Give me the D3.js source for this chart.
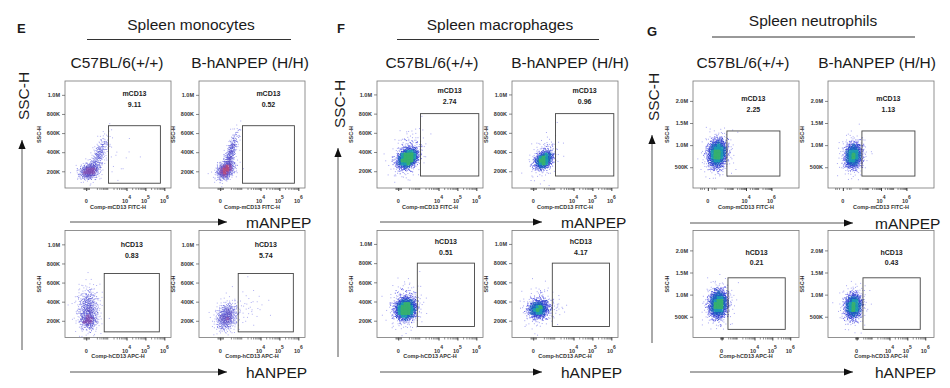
<!DOCTYPE html>
<html lang="en">
<head>
<meta charset="UTF-8">
<title>spleen-cd13-flow</title>
<style>
  body { margin: 0; background: #fff; }
  svg { display: block; font-family: "Liberation Sans", Arial, sans-serif; }
</style>
</head>
<body>
<div id="container"></div>
<script src="https://d3js.org/d3.v7.min.js"></script>
<script>
// ---- data ----
var panelLetters = ["E", "F", "G"];
var panelTitles = ["Spleen monocytes", "Spleen macrophages", "Spleen neutrophils"];
var strains = ["C57BL/6(+/+)", "B-hANPEP (H/H)"];
var rowMarkers = ["mANPEP", "hANPEP"];
var gateNames = ["mCD13", "hCD13"];
var xTitles = ["Comp-mCD13 FITC-H", "Comp-hCD13 APC-H"];

// gate percentages [panel][row][strain]
var gatePct = [
  [["9.11", "0.52"], ["0.83", "5.74"]],
  [["2.74", "0.96"], ["0.51", "4.17"]],
  [["2.25", "1.13"], ["0.21", "0.43"]]
];

// SSC-H axis
var sscTicks = [[2e5, 4e5, 6e5, 8e5, 1e6], [2e5, 4e5, 6e5, 8e5, 1e6], [5e5, 1e6, 1.5e6, 2e6]];
var sscLabels = [["200K", "400K", "600K", "800K", "1.0M"], ["200K", "400K", "600K", "800K", "1.0M"], ["500K", "1.0M", "1.5M", "2.0M"]];
var sscDomain = [[25e3, 1.145e6], [25e3, 1.14e6], [30e3, 2.45e6]];

// fluorescence axis tick values per [panel][row]
var fluorTicks = [
  [[0, 1e4, 1e5, 1e6], [0, 1e4, 1e5, 1e6]],
  [[0, 1e4, 1e5, 1e6], [0, 1e4, 1e5, 1e6]],
  [[0, 1e4, 1e6], [0, 1e4, 1e5, 1e6]]
];

// gates [panel][row] = [x0, x1, ssc0, ssc1], same gate for both strains
var gates = [
  [[1050, 6.2e5, 75e3, 677e3], [595, 5.45e5, 84e3, 695e3]],
  [[1050, 1.35e6, 150e3, 800e3], [690, 8.0e5, 140e3, 800e3]],
  [[306, 4.65e6, 300e3, 1.32e6], [189, 5.25e5, 214e3, 1.38e6]]
];

// event clouds seen in each plot: [x, ssc, spreadX(log units), spreadSSC, corr, events]
var clouds = [
  [ // monocytes
    [[[35, 200e3, 0.65, 45e3, 0.2, 330], [278, 370e3, 0.65, 110e3, 0.7, 220], [2500, 300e3, 1.2, 160e3, 0.2, 18]],
     [[68, 210e3, 0.6, 50e3, 0.3, 380], [197, 390e3, 0.5, 120e3, 0.75, 260]]],
    [[[22, 320e3, 0.7, 120e3, 0, 450], [22, 200e3, 0.55, 40e3, 0, 150]],
     [[87, 240e3, 0.7, 80e3, 0.2, 420], [2200, 340e3, 1.2, 100e3, 0, 40]]]
  ],
  [ // macrophages
    [[[164, 334e3, 0.6, 50e3, 0.3, 1000], [164, 370e3, 0.95, 120e3, 0.35, 260]],
     [[197, 315e3, 0.55, 48e3, 0.3, 600], [197, 340e3, 0.9, 110e3, 0.35, 150]]],
    [[[110, 323e3, 0.62, 55e3, 0.1, 1100], [110, 345e3, 0.95, 120e3, 0.1, 260]],
     [[68, 320e3, 0.62, 50e3, 0.1, 600], [68, 340e3, 0.95, 110e3, 0.1, 150], [690, 330e3, 0.9, 55e3, 0, 40]]]
  ],
  [ // neutrophils
    [[[46, 808e3, 0.86, 160e3, 0.1, 1000], [46, 808e3, 1.3, 250e3, 0.1, 200]],
     [[58, 760e3, 0.8, 150e3, 0.1, 750], [58, 760e3, 1.25, 240e3, 0.1, 150]]],
    [[[-76, 786e3, 0.6, 160e3, 0.1, 1000], [-76, 786e3, 0.9, 250e3, 0.1, 200]],
     [[-76, 740e3, 0.56, 150e3, 0.1, 750], [-76, 740e3, 0.85, 240e3, 0.1, 150]]]
  ]
];

// ---- layout ----
var width = 950, height = 388;
var boxW = 106, boxH = 107;
var rowTop = [81, 230.5];
var layout = [
  {letterX: 17, letterY: 33, titleX: 191, titleY: 30, rule: [87, 291], ruleY: 39.5, colX: [117, 250],
   boxX: [65, 199], axisX: 22, axisY: [140, 350], sscY: 96, arrowX: [70, 227], arrowY: [222, 372], markX: 246,
   labelDy: [[13, 24], [14, 25]], xs: [{c: 75, d: [-913, 2.25e6]}, {c: 75, d: [-913, 2.25e6]}]},
  {letterX: 337, letterY: 33, titleX: 500, titleY: 30, rule: [397, 599], ruleY: 39.5, colX: [432, 570],
   boxX: [377, 512], axisX: 338, axisY: [148, 357], sscY: 104, arrowX: [380, 542], arrowY: [222, 372], markX: 561,
   labelDy: [[10, 21], [11, 22]], xs: [{c: 75, d: [-913, 2.25e6]}, {c: 75, d: [-913, 2.25e6]}]},
  {letterX: 647, letterY: 36, titleX: 813, titleY: 26, rule: [712, 915], ruleY: 37, colX: [743, 877],
   boxX: [693, 828], axisX: 652, axisY: [135, 343], sscY: 97, arrowX: [690, 853], arrowY: [223, 372], markX: 875,
   labelDy: [[18, 29], [22, 32]], xs: [{c: 10, d: [-137, 1.47e8]}, {c: 150, d: [-5745, 3.07e6]}]}
];

var palettes = [
  ["#b0b0f2", "#8282e6", "#6464d8", "#5a50c8", "#7a4cb4", "#b04a80"],
  ["#a8a8f2", "#6464e6", "#3040d0", "#1c5cc0", "#1c98b0", "#38b070"],
  ["#a8a8f2", "#6464e6", "#3040d0", "#1c5cc0", "#1c98b0", "#38b070"]
];
var densitySteps = [[3, 6, 10, 15, 22], [3, 7, 14, 24, 36], [3, 7, 14, 24, 36]];

var svg = d3.select("#container").append("svg")
    .attr("width", width)
    .attr("height", height);

svg.append("defs").append("marker").attr("id", "head")
    .attr("viewBox", "0 0 10 10").attr("refX", 10).attr("refY", 5)
    .attr("markerWidth", 9).attr("markerHeight", 9).attr("markerUnits", "userSpaceOnUse")
    .attr("orient", "auto")
  .append("path").attr("d", "M0,1L10,5L0,9Z").attr("fill", "#111");

// quasi-random normal deviates (halton + box-muller), deterministic
function halton(i, b) {
  var f = 1, r = 0;
  while (i > 0) { f /= b; r += f * (i % b); i = Math.floor(i / b); }
  return r;
}
function symlog(v, c) { return Math.sign(v) * Math.log1p(Math.abs(v) / c); }
function unsymlog(s, c) { return Math.sign(s) * c * Math.expm1(Math.abs(s)); }

function events(spec, c, seed) {
  var pts = [], s0 = symlog(spec[0], c);
  for (var i = 0; i < spec[5]; i++) {
    var k = seed + i + 1;
    var rad = Math.sqrt(-2 * Math.log(halton(k, 2))), th = 2 * Math.PI * halton(k, 3);
    var g1 = rad * Math.cos(th), g2 = rad * Math.sin(th);
    var gy = spec[4] * g1 + Math.sqrt(1 - spec[4] * spec[4]) * g2;
    pts.push([unsymlog(s0 + g1 * spec[2], c), spec[1] + gy * spec[3]]);
  }
  return pts;
}

function drawPlot(p, r, s) {
  var L = layout[p];
  var x0 = L.boxX[s], y0 = rowTop[r];
  var g = svg.append("g").attr("transform", "translate(" + x0 + "," + y0 + ")");

  var xs = d3.scaleSymlog().constant(L.xs[r].c).domain(L.xs[r].d).range([0, boxW]);
  var ys = d3.scaleLinear().domain(sscDomain[p]).range([boxH, 0]);

  // events
  var pts = [];
  clouds[p][r][s].forEach(function(spec, j) {
    pts = pts.concat(events(spec, L.xs[r].c, 37 * j + 211 * s + 97 * r + 500 * p));
  });
  pts = pts.map(function(d) { return [xs(d[0]), ys(d[1])]; })
    .filter(function(d) { return d[0] > 1 && d[0] < boxW - 1 && d[1] > 1 && d[1] < boxH - 1; });
  var key = function(d) { return Math.floor(d[0] / 3) + "_" + Math.floor(d[1] / 3); };
  var bins = d3.rollup(pts, function(v) { return v.length; }, key);
  pts.forEach(function(d) { d.k = bins.get(key(d)); });
  pts.sort(function(a, b) { return a.k - b.k; });
  var color = d3.scaleThreshold().domain(densitySteps[p]).range(palettes[p]);

  g.append("g").selectAll("rect").data(pts).enter().append("rect")
      .attr("x", function(d) { return d[0] - 0.5; })
      .attr("y", function(d) { return d[1] - 0.5; })
      .attr("width", 1).attr("height", 1)
      .attr("fill", function(d) { return color(d.k); });

  // frame
  g.append("rect").attr("width", boxW).attr("height", boxH)
      .attr("fill", "none").attr("stroke", "#777").attr("stroke-width", 0.8);

  // gate
  var gt = gates[p][r];
  g.append("rect")
      .attr("x", xs(gt[0])).attr("y", ys(gt[3]))
      .attr("width", xs(gt[1]) - xs(gt[0])).attr("height", ys(gt[2]) - ys(gt[3]))
      .attr("fill", "none").attr("stroke", "#444").attr("stroke-width", 0.9);
  var gx = (xs(gt[0]) + xs(gt[1])) / 2;
  g.append("text").attr("x", gx).attr("y", L.labelDy[r][0]).attr("dy", "0.35em")
      .attr("text-anchor", "middle").attr("font-size", 7).attr("font-weight", "bold").attr("fill", "#222")
      .text(gateNames[r]);
  g.append("text").attr("x", gx).attr("y", L.labelDy[r][1]).attr("dy", "0.35em")
      .attr("text-anchor", "middle").attr("font-size", 7).attr("font-weight", "bold").attr("fill", "#222")
      .text(gatePct[p][r][s]);

  // y axis
  var ya = g.append("g").call(d3.axisLeft(ys).tickValues(sscTicks[p])
      .tickFormat(function(d, i) { return sscLabels[p][i]; }).tickSize(3).tickPadding(2));
  ya.select(".domain").remove();
  ya.selectAll("line").attr("stroke", "#555").attr("stroke-width", 0.7);
  ya.selectAll("text").attr("font-size", 5.5).attr("font-weight", "bold").attr("fill", "#333")
      .attr("font-family", "Liberation Sans, Arial, sans-serif");
  g.append("text").attr("transform", "translate(-24," + (boxH / 2) + ") rotate(-90)")
      .attr("text-anchor", "middle").attr("font-size", 5.5).attr("font-weight", "bold").attr("fill", "#333")
      .text("SSC-H");

  // x axis: minor then major ticks
  var minor = [-30, -20, -10, 10, 20, 30];
  [100, 1000, 1e4, 1e5].forEach(function(dec) {
    for (var m = 2; m <= 9; m++) minor.push(m * dec);
  });
  minor = minor.filter(function(v) { return v > L.xs[r].d[0] && v < L.xs[r].d[1]; });
  var xm = g.append("g").attr("transform", "translate(0," + boxH + ")")
      .call(d3.axisBottom(xs).tickValues(minor).tickSize(2).tickFormat(""));
  xm.select(".domain").remove();
  xm.selectAll("line").attr("stroke", "#444").attr("stroke-width", 0.6);
  var xa = g.append("g").attr("transform", "translate(0," + boxH + ")")
      .call(d3.axisBottom(xs).tickValues(fluorTicks[p][r]).tickSize(3).tickFormat(""));
  xa.select(".domain").remove();
  xa.selectAll("line").attr("stroke", "#222").attr("stroke-width", 0.9);

  var lab = g.append("g").attr("font-size", 5.5).attr("font-weight", "bold").attr("fill", "#333");
  fluorTicks[p][r].forEach(function(v) {
    var t = lab.append("text").attr("x", xs(v)).attr("y", boxH + 15).attr("text-anchor", "middle");
    if (v === 0) { t.text("0"); return; }
    t.append("tspan").text("10");
    t.append("tspan").attr("dy", -4).attr("font-size", 5).text(Math.round(Math.log10(v)));
  });
  lab.append("text").attr("x", boxW / 2).attr("y", boxH + 20.5).attr("text-anchor", "middle")
      .text(xTitles[r]);
}

layout.forEach(function(L, p) {
  var t = svg.append("g").attr("fill", "#1a1a1a");
  t.append("text").attr("x", L.letterX).attr("y", L.letterY)
      .attr("font-size", 13).attr("font-weight", "bold").text(panelLetters[p]);
  t.append("text").attr("x", L.titleX).attr("y", L.titleY).attr("text-anchor", "middle")
      .attr("font-size", 15.5).text(panelTitles[p]);
  svg.append("line").attr("x1", L.rule[0]).attr("x2", L.rule[1])
      .attr("y1", L.ruleY).attr("y2", L.ruleY).attr("stroke", "#333").attr("stroke-width", 1);
  strains.forEach(function(s, i) {
    t.append("text").attr("x", L.colX[i]).attr("y", 68).attr("text-anchor", "middle")
        .attr("font-size", 15.5).text(s);
  });

  // SSC-H arrow
  svg.append("line").attr("x1", L.axisX).attr("x2", L.axisX)
      .attr("y1", L.axisY[1]).attr("y2", L.axisY[0])
      .attr("stroke", "#555").attr("stroke-width", 1).attr("marker-end", "url(#head)");
  t.append("text").attr("transform", "translate(" + (L.axisX + 6.5) + "," + L.sscY + ") rotate(-90)")
      .attr("text-anchor", "middle").attr("font-size", 15.5).text("SSC-H");

  // marker arrows
  rowMarkers.forEach(function(m, r) {
    svg.append("line").attr("x1", L.arrowX[0]).attr("x2", L.arrowX[1])
        .attr("y1", L.arrowY[r]).attr("y2", L.arrowY[r])
        .attr("stroke", "#555").attr("stroke-width", 1).attr("marker-end", "url(#head)");
    t.append("text").attr("x", L.markX).attr("y", L.arrowY[r] + 5.5)
        .attr("font-size", 15.5).text(m);
  });

  for (var r = 0; r < 2; r++) for (var s = 0; s < 2; s++) drawPlot(p, r, s);
});
</script>
</body>
</html>
